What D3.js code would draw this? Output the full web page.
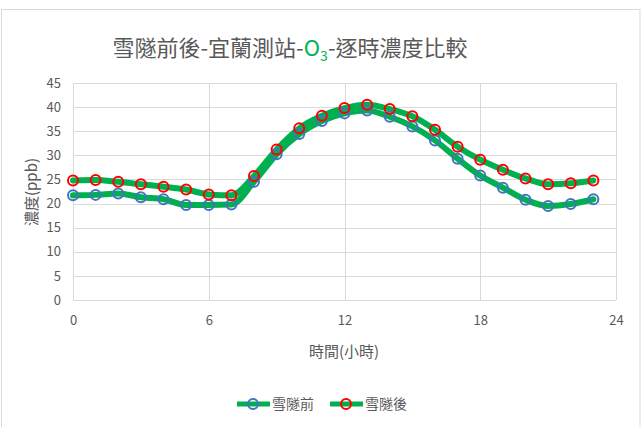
<!DOCTYPE html>
<html>
<head>
<meta charset="utf-8">
<script src="https://cdn.jsdelivr.net/npm/d3@7"></script>
<style>
  html, body { margin: 0; padding: 0; background: #fff; }
  svg { display: block; }
  text { font-family: "Noto Sans CJK TC", "Noto Sans", sans-serif; fill: #595959; }
</style>
</head>
<body>
<svg id="chart" width="643" height="427"></svg>
<script>
// Hourly O3 concentration (ppb) at Yilan station, before / after the Hsuehshan Tunnel opened
const hours = d3.range(0, 24);
const beforeValues = [21.7, 21.8, 22.1, 21.3, 20.9, 19.7, 19.7, 19.8, 24.5, 30.2, 34.4, 37.1,
                      38.7, 39.3, 38.0, 36.0, 33.1, 29.3, 25.8, 23.3, 20.8, 19.5, 19.9, 20.9];
const afterValues  = [24.8, 24.9, 24.5, 24.0, 23.5, 22.9, 21.9, 21.7, 25.7, 31.2, 35.6, 38.2,
                      39.8, 40.5, 39.6, 38.1, 35.3, 31.8, 29.1, 27.0, 25.2, 24.0, 24.2, 24.8];
const seriesNames = ["雪隧前", "雪隧後"];
const xTicks = [0, 6, 12, 18, 24];
const yTicks = [0, 5, 10, 15, 20, 25, 30, 35, 40, 45];

const svg = d3.select("#chart");
const W = 643, H = 427;
const plot = { left: 73, right: 616, top: 83, bottom: 300 };

// chart frame
svg.append("rect")
  .attr("x", 1.5).attr("y", 9.5).attr("width", W - 3.5 - 1).attr("height", H)
  .attr("fill", "#fff").attr("stroke", "#d9d9d9").attr("stroke-width", 1);

const x = d3.scaleLinear().domain([0, 24]).range([plot.left, plot.right]);
const y = d3.scaleLinear().domain([0, 45]).range([plot.bottom, plot.top]);

// gridlines
const grid = svg.append("g").attr("stroke", "#d9d9d9").attr("stroke-width", 1);
grid.selectAll("line.h").data(yTicks).join("line")
  .attr("x1", plot.left).attr("x2", plot.right)
  .attr("y1", d => Math.round(y(d)) + 0.5).attr("y2", d => Math.round(y(d)) + 0.5);
grid.selectAll("line.v").data(xTicks).join("line")
  .attr("y1", plot.top).attr("y2", plot.bottom)
  .attr("x1", d => Math.round(x(d)) + 0.5).attr("x2", d => Math.round(x(d)) + 0.5);

// axes (labels only, Excel style)
const yAxis = svg.append("g").attr("transform", `translate(${plot.left - 12},0)`)
  .call(d3.axisLeft(y).tickValues(yTicks).tickSize(0).tickPadding(0));
yAxis.select(".domain").remove();
yAxis.selectAll("text").attr("font-size", 13).style("fill", "#595959")
  .attr("font-family", "'Noto Sans', sans-serif");

const xAxis = svg.append("g").attr("transform", `translate(0,${plot.bottom + 16})`)
  .call(d3.axisBottom(x).tickValues(xTicks).tickSize(0).tickPadding(0));
xAxis.select(".domain").remove();
xAxis.selectAll("text").attr("font-size", 13).style("fill", "#595959")
  .attr("font-family", "'Noto Sans', sans-serif");

// title
const title = svg.append("text")
  .attr("x", 290).attr("y", 56).attr("text-anchor", "middle")
  .attr("font-size", 22);
title.append("tspan").text("雪隧前後-宜蘭測站-");
title.append("tspan").text("O").style("fill", "#00B050");
title.append("tspan").text("3").attr("font-size", 14).attr("dy", 5).style("fill", "#00B050");
title.append("tspan").text("-逐時濃度比較").attr("dy", -5);

// axis titles
svg.append("text").attr("x", 344).attr("y", 357).attr("text-anchor", "middle")
  .attr("font-size", 15).text("時間(小時)");
svg.append("text").attr("transform", "translate(37,192) rotate(-90)")
  .attr("text-anchor", "middle").attr("font-size", 15).text("濃度(ppb)");

// series
const series = [
  { name: seriesNames[0], values: beforeValues, marker: "#4472C4" },
  { name: seriesNames[1], values: afterValues, marker: "#FF0000" }
];
const line = d3.line().x((d, i) => x(hours[i])).y(d => y(d)).curve(d3.curveMonotoneX);

series.forEach(s => {
  svg.append("path").datum(s.values)
    .attr("d", line).attr("fill", "none")
    .attr("stroke", "#00B050").attr("stroke-width", 6)
    .attr("stroke-linejoin", "round").attr("stroke-linecap", "round");
});
series.forEach(s => {
  svg.append("g").selectAll("circle").data(s.values).join("circle")
    .attr("cx", (d, i) => x(hours[i])).attr("cy", d => y(d)).attr("r", 5)
    .attr("fill", "none").attr("stroke", s.marker).attr("stroke-width", 2);
});

// legend
const legendItems = [
  { name: seriesNames[0], marker: "#4472C4", x: 237 },
  { name: seriesNames[1], marker: "#FF0000", x: 330 }
];
const lg = svg.append("g");
legendItems.forEach(it => {
  const g = lg.append("g").attr("transform", `translate(${it.x},404)`);
  g.append("line").attr("x1", 0).attr("x2", 33).attr("y1", 0).attr("y2", 0)
    .attr("stroke", "#00B050").attr("stroke-width", 5);
  g.append("circle").attr("cx", 16).attr("cy", 0).attr("r", 5)
    .attr("fill", "none").attr("stroke", it.marker).attr("stroke-width", 2);
  g.append("text").attr("x", 35).attr("y", 5).attr("font-size", 14).text(it.name);
});
</script>
</body>
</html>
